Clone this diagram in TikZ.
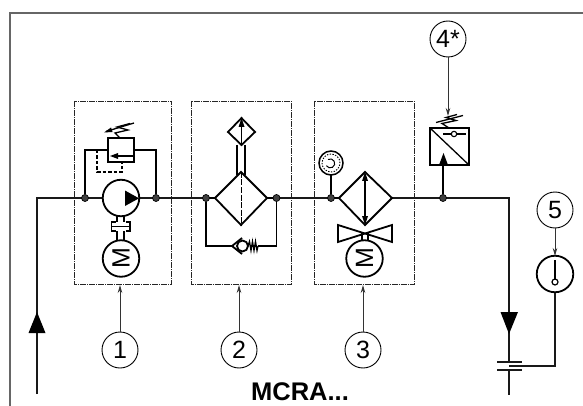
\documentclass[tikz,border=0pt]{standalone}
\usepackage{fontspec}
\setmainfont{Liberation Sans}
\usetikzlibrary{arrows.meta}
\tikzset{
 x=1pt,y=-1pt,
 pipe/.style={line width=2pt,draw=black!90},
 sym/.style={line width=1.8pt,draw=black},
 fine/.style={line width=1.3pt,draw=black},
 grp/.style={line width=0.8pt,draw=black!85,dash pattern=on 6pt off 1pt on 1pt off 1pt},
 dot/.style={circle,fill=black!75,draw=black,line width=.7pt,minimum size=7pt,inner sep=0},
 num/.style={circle,draw=black,line width=.9pt,minimum size=36pt,inner sep=0,font=\fontsize{25}{25}\selectfont},
 lead/.style={line width=.9pt,draw=black!80,-{Stealth[length=8pt,width=4.5pt]}},
 flow/.style={fill=black},
 mot/.style={circle,draw=black,line width=1.8pt,minimum size=36.5pt,inner sep=0},
 mtext/.style={rotate=90,font=\fontsize{25}{25}\selectfont},
}
\begin{document}
\begin{tikzpicture}
\useasboundingbox (0,0) rectangle (583,406);
\fill[white] (0,0) rectangle (583,406);
% frame
\draw[line width=1.8pt,draw=black!60] (10,406) -- (10,13) -- (583,13);
% group boxes
\draw[grp] (74.5,101) rectangle (171,284.5);
\draw[grp] (191,101) rectangle (291,284.5);
\draw[grp] (314,101) rectangle (414,284.5);
% main line
\coordinate (in) at (37,394);
\coordinate (corner1) at (37,198);
\coordinate (corner2) at (509,198);
\coordinate (out) at (509,395);
\draw[pipe] (in) -- (corner1) -- (corner2) -- (509,362);
\draw[pipe] (509,370) -- (out);
\fill[flow] (37,312) -- (28.5,333) -- (45.5,333) -- cycle;
\fill[flow] (509,334) -- (500.5,312) -- (518,312) -- cycle;
% junctions
\node[dot] (j1) at (85,198) {};
\node[dot] (j2) at (156,198) {};
\node[dot] (j3) at (206,198) {};
\node[dot] (j4) at (276.5,198) {};
\node[dot] (j5) at (331,198) {};
\node[dot] (j6) at (443,198) {};
% group 1
\draw[sym] (j1) -- (85,150) -- (108,150);
\draw[sym] (134,150) -- (156,150) -- (j2);
\draw[sym,fill=white] (108,138) rectangle (134,162);
\draw[fine,dash pattern=on 3.5pt off 2pt] (108,150) -- (97,150) -- (97,172) -- (122,172) -- (122,162);
\draw[sym] (134,156) -- (115,156);
\fill (110,156) -- (118,153) -- (118,159) -- cycle;
\draw[fine] (120,138) -- (115,133) -- (128,130) -- (117,127) -- (130,123.5);
\draw[fine] (106,131.5) -- (134,123);
\fill (104,132.5) -- (111,127.5) -- (112.5,132) -- cycle;
\node[mot,fill=white] (pump) at (121,198) {};
\fill (125,190.5) -- (125,206) -- (139,198.3) -- cycle;
\draw[sym] (117,216) -- (117,222) (124,216) -- (124,222);
\draw[sym] (117,231) -- (117,241) (124,231) -- (124,241);
\draw[sym] (115.5,222) -- (111.5,222) -- (111.5,231) -- (115.5,231);
\draw[sym] (125.5,222) -- (130,222) -- (130,231) -- (125.5,231);
\draw[sym] (111.5,226.5) -- (130,226.5);
\node[mot,fill=white] (m1) at (121,258.5) {};
\node[mtext] at (121,258.5) {M};
% group 2
\draw[sym] (j3) -- (215,198);
\draw[sym] (267,198) -- (j4);
\draw[sym] (j3) -- (206,246) -- (232,246);
\draw[sym] (j4) -- (276.5,246) -- (258,246);
\draw[sym,fill=white] (241,172) -- (267,198) -- (241,225) -- (215,198) -- cycle;
\draw[line width=1pt,dash pattern=on 6pt off 1.5pt] (241,172) -- (241,225);
\draw[sym] (237,145) -- (237,175);
\draw[sym] (245,145) -- (245,175);
\draw[sym,fill=white] (241.5,118) -- (255,132) -- (241.5,145) -- (228,132) -- cycle;
\draw[sym] (241.5,145) -- (241.5,125);
\fill (241.5,118) -- (238.5,127) -- (244.5,127) -- cycle;
\draw[sym] (242,238) -- (232,246) -- (242,254);
\draw[sym,fill=white] (242.5,246) circle (5.5pt);
\draw[fine] (248,246) -- (249.5,241.5) -- (251,250.5) -- (252.5,241.5) -- (254,250.5) -- (255.5,241.5) -- (257,250.5) -- (258,246);
% group 3
\draw[sym] (j5) -- (339,198);
\draw[sym] (j5) -- (331,175);
\node[circle,draw=black,line width=1.5pt,minimum size=24pt,inner sep=0,fill=white] (gauge) at (331,163) {};
\draw[line width=.9pt,dash pattern=on 1.4pt off 1.4pt] (331,163) circle (9pt);
\draw[line width=1pt] (328,159.5) arc (120:-150:4.5pt);
\draw[sym,fill=white] (365,172) -- (392,198) -- (365,225) -- (339,198) -- cycle;
\draw[sym] (365,176) -- (365,221);
\fill (365,172) -- (362,181) -- (368,181) -- cycle;
\fill (365,225) -- (362,216) -- (368,216) -- cycle;
\draw[sym] (338,225) -- (392,242) -- (392,225) -- (338,242) -- cycle;
\draw[sym] (362,232) -- (362,241);
\draw[sym] (368,232) -- (368,241);
\node[mot,fill=white] (m3) at (364.5,258.5) {};
\node[mtext] at (364.5,258.5) {M};
% item 4
\draw[sym] (j6) -- (443,160);
\draw[sym] (430,128) rectangle (469,165);
\draw[fine] (430,128) -- (469,165);
\fill (443.5,153) -- (439,165) -- (448,165) -- cycle;
\draw[fine] (443,134) -- (466,134);
\draw[line width=1.1pt,fill=white] (454,134) circle (2.7pt);
\draw[fine] (449,128) -- (442,123.5) -- (456,120.5) -- (446,117.5) -- (457,114.5);
\draw[fine] (436,122.5) -- (463,115.5);
% item 5
\node[mot] (gage5) at (555,274) {};
\draw[line width=1.3pt] (555,260) -- (555,279);
\draw[line width=1.2pt] (555,282) circle (3pt);
\draw[pipe] (gage5) -- (555,365.5) -- (509,365.5);
\draw[pipe] (497,362) -- (522,362);
\draw[pipe] (497,370) -- (522,370);
% labels
\node[num] (n1) at (120,350) {1};
\node[num] (n2) at (239,350) {2};
\node[num] (n3) at (363,350) {3};
\node[num] (n4) at (448,39) {4*};
\node[num] (n5) at (555,210) {5};
\coordinate (t1) at (120,285);
\coordinate (t2) at (239,285);
\coordinate (t3) at (363,285);
\coordinate (t4) at (448,116);
\coordinate (t5) at (555,256);
\draw[lead] (n1) -- (t1);
\draw[lead] (n2) -- (t2);
\draw[lead] (n3) -- (t3);
\draw[lead] (n4) -- (t4);
\draw[lead] (n5) -- (t5);
\node[anchor=base,inner sep=0pt,font=\bfseries\fontsize{25.5}{26}\selectfont] (title) at (300,400.5) {MCRA...};
\end{tikzpicture}
\end{document}
